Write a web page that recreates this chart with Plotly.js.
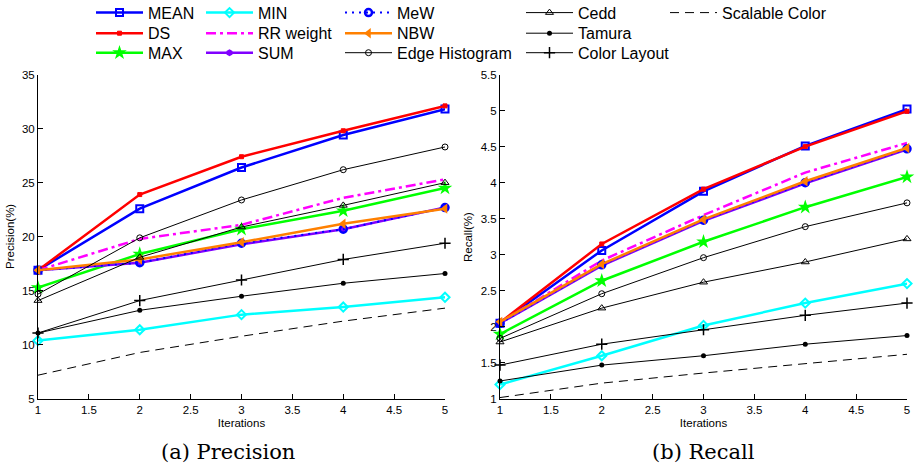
<!DOCTYPE html>
<html>
<head>
<meta charset="utf-8">
<script src="https://cdn.plot.ly/plotly-3.0.1.min.js"></script>
<style>html,body{margin:0;padding:0;background:#fff;}#chart{width:918px;height:471px;}</style>
</head>
<body>
<div id="chart"></div>
<script>
// ---- data ----
const iterations = [1, 2, 3, 4, 5];
const seriesNames = ["MEAN", "DS", "MAX", "MIN", "RR weight", "SUM", "MeW", "NBW", "Edge Histogram", "Cedd", "Tamura", "Color Layout", "Scalable Color"];

// Precision (%)
const precMEAN  = [16.9, 22.6, 26.4, 29.4, 31.8];
const precDS    = [16.9, 23.9, 27.4, 29.8, 32.1];
const precMAX   = [15.3, 18.4, 20.7, 22.4, 24.5];
const precMIN   = [10.4, 11.4, 12.8, 13.5, 14.4];
const precRR    = [16.9, 19.8, 21.1, 23.6, 25.3];
const precSUM   = [16.9, 17.6, 19.3, 20.7, 22.7];
const precMeW   = [16.9, 17.6, 19.4, 20.7, 22.7];
const precNBW   = [16.9, 17.9, 19.5, 21.2, 22.6];
const precEdge  = [14.7, 19.9, 23.4, 26.2, 28.3];
const precCedd  = [14.1, 18.1, 20.9, 22.9, 25.0];
const precTamura= [11.1, 13.2, 14.5, 15.7, 16.6];
const precCL    = [11.1, 14.1, 16.0, 17.9, 19.4];
const precSC    = [7.2, 9.3, 10.8, 12.2, 13.4];

// Recall (%)
const recMEAN   = [2.05, 3.06, 3.88, 4.51, 5.02];
const recDS     = [2.06, 3.15, 3.91, 4.50, 4.99];
const recMAX    = [1.90, 2.64, 3.18, 3.66, 4.08];
const recMIN    = [1.20, 1.60, 2.02, 2.33, 2.60];
const recRR     = [2.06, 2.92, 3.55, 4.14, 4.55];
const recSUM    = [2.05, 2.85, 3.47, 3.99, 4.46];
const recMeW    = [2.05, 2.86, 3.48, 4.00, 4.47];
const recNBW    = [2.07, 2.87, 3.49, 4.02, 4.48];
const recEdge   = [1.84, 2.46, 2.96, 3.39, 3.72];
const recCedd   = [1.79, 2.26, 2.62, 2.90, 3.22];
const recTamura = [1.25, 1.47, 1.60, 1.76, 1.88];
const recCL     = [1.47, 1.76, 1.96, 2.16, 2.33];
const recSC     = [1.02, 1.22, 1.36, 1.49, 1.62];

const precData = [precMEAN, precDS, precMAX, precMIN, precRR, precSUM, precMeW, precNBW, precEdge, precCedd, precTamura, precCL, precSC];
const recData  = [recMEAN, recDS, recMAX, recMIN, recRR, recSUM, recMeW, recNBW, recEdge, recCedd, recTamura, recCL, recSC];

// ---- styles ----
const styles = [
  {color:"#0000FF", width:2.5, dash:"solid", mode:"lines+markers", symbol:"square-open", size:7, mlw:2},
  {color:"#FF0000", width:2.5, dash:"solid", mode:"lines+markers", symbol:"square", size:4, mlw:1},
  {color:"#00FF00", width:2.5, dash:"solid", mode:"lines+markers", symbol:"star", size:11, mlw:0},
  {color:"#00FFFF", width:2.5, dash:"solid", mode:"lines+markers", symbol:"diamond-open", size:7, mlw:2},
  {color:"#FF00FF", width:2.5, dash:"10px,4px,3px,4px", mode:"lines", symbol:"circle", size:1, mlw:0},
  {color:"#8000FF", width:2.5, dash:"solid", mode:"lines+markers", symbol:"hexagon", size:7, mlw:0},
  {color:"#0000FF", width:2, dash:"2px,5px", mode:"lines+markers", symbol:"circle-open", size:7, mlw:2.5},
  {color:"#FF8000", width:2.5, dash:"solid", mode:"lines+markers", symbol:"triangle-left", size:9, mlw:0},
  {color:"#000000", width:1, dash:"solid", mode:"lines+markers", symbol:"circle-open", size:6, mlw:1},
  {color:"#000000", width:1, dash:"solid", mode:"lines+markers", symbol:"triangle-up-open", size:7, mlw:1},
  {color:"#000000", width:1, dash:"solid", mode:"lines+markers", symbol:"circle", size:5, mlw:0},
  {color:"#000000", width:1, dash:"solid", mode:"lines+markers", symbol:"cross-thin-open", size:8, mlw:1.5},
  {color:"#000000", width:1, dash:"9px,6px", mode:"lines", symbol:"circle", size:1, mlw:0}
];

// legend grid: column (text start px) and row (centre px) of each series
const legendTextX = [148, 148, 148, 258, 258, 258, 397, 397, 397, 578, 578, 578, 722];
const legendRowY  = [12.7, 33.3, 52.8, 12.7, 33.3, 52.8, 12.7, 33.3, 52.8, 12.7, 33.3, 52.8, 12.7];

const traces = [];
function addTraces(dataSets, xa, ya, showLeg) {
  dataSets.forEach((vals, i) => {
    const s = styles[i];
    traces.push({
      type: "scatter",
      x: iterations,
      y: vals,
      name: seriesNames[i],
      mode: s.mode,
      xaxis: xa, yaxis: ya,
      showlegend: showLeg,
      legend: i === 0 ? "legend" : "legend" + (i + 1),
      line: {color: s.color, width: s.width, dash: s.dash},
      marker: {symbol: s.symbol, size: s.size, color: s.color, line: {color: s.color, width: s.mlw}},
      cliponaxis: false
    });
  });
}
addTraces(precData, "x", "y", true);
addTraces(recData, "x2", "y2", false);

const W = 918, H = 471;
const tickFont = {family: "Liberation Sans, Arial, sans-serif", size: 11.5, color: "#000"};
const titleFont = {family: "Liberation Sans, Arial, sans-serif", size: 11.5, color: "#000"};
function xAxis(domain, anchor) {
  return {domain: domain, anchor: anchor, range: [1, 5], dtick: 0.5, tick0: 1,
    showline: true, linecolor: "#000", linewidth: 1, ticks: "inside", ticklen: 5, tickcolor: "#000",
    showgrid: false, zeroline: false, tickfont: tickFont,
    title: {text: "Iterations", font: titleFont, standoff: 4}};
}
function yAxis(domain, anchor, range, dtick) {
  return {domain: domain, anchor: anchor, range: range, dtick: dtick, tick0: range[0],
    showline: true, linecolor: "#000", linewidth: 1, ticks: "inside", ticklen: 5, tickcolor: "#000",
    showgrid: false, zeroline: false, tickfont: tickFont};
}
const yDom = [1 - 399 / H, 1 - 74.5 / H];
const legFont = {family: "Liberation Sans, Arial, sans-serif", size: 16, color: "#000"};

const layout = {
  width: W, height: H,
  margin: {l: 0, r: 0, t: 0, b: 0, autoexpand: false},
  paper_bgcolor: "#fff", plot_bgcolor: "#fff",
  xaxis: xAxis([38 / W, 445 / W], "y"),
  yaxis: yAxis(yDom, "x", [5, 35], 5),
  xaxis2: xAxis([500 / W, 907 / W], "y2"),
  yaxis2: yAxis(yDom, "x2", [1, 5.5], 0.5),
  annotations: [
    {text: "Precision(%)", x: 10 / W, y: 1 - 237 / H, xref: "paper", yref: "paper", xanchor: "center", yanchor: "middle",
     textangle: -90, showarrow: false, font: titleFont},
    {text: "Recall(%)", x: 468 / W, y: 1 - 237 / H, xref: "paper", yref: "paper", xanchor: "center", yanchor: "middle",
     textangle: -90, showarrow: false, font: titleFont},
    {text: "(a) Precision", x: 228 / W, y: 1 - 452 / H, xref: "paper", yref: "paper", xanchor: "center", yanchor: "middle", showarrow: false,
     font: {family: "DejaVu Serif, serif", size: 21, color: "#000"}},
    {text: "(b) Recall", x: 703 / W, y: 1 - 452 / H, xref: "paper", yref: "paper", xanchor: "center", yanchor: "middle", showarrow: false,
     font: {family: "DejaVu Serif, serif", size: 21, color: "#000"}}
  ]
};
seriesNames.forEach((n, i) => {
  const key = i === 0 ? "legend" : "legend" + (i + 1);
  layout[key] = {x: (legendTextX[i] - 57) / W, xanchor: "left", y: 1 - legendRowY[i] / H, yanchor: "middle",
    orientation: "v", bgcolor: "rgba(0,0,0,0)", borderwidth: 0, font: legFont, itemwidth: 47};
});

Plotly.newPlot("chart", traces, layout, {displayModeBar: false, staticPlot: true});
</script>
</body>
</html>
